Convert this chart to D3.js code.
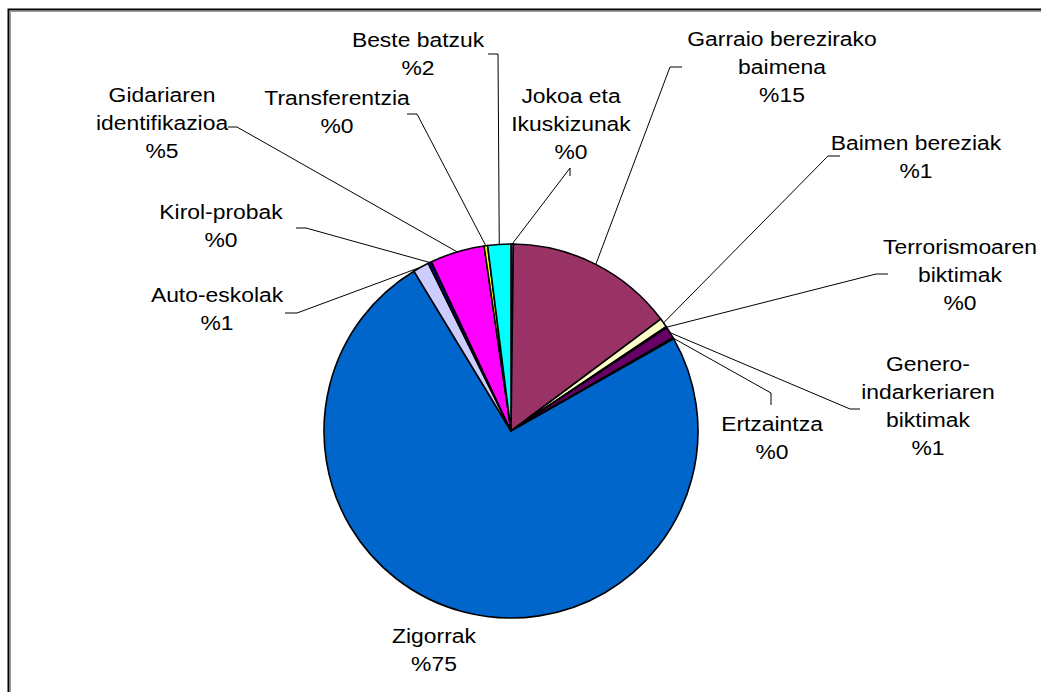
<!DOCTYPE html>
<html>
<head>
<meta charset="utf-8">
<script src="https://cdn.jsdelivr.net/npm/d3@7"></script>
<style>
	body { margin: 0; background: #fff; }
	svg text { font-family: Arial, "Liberation Sans", sans-serif; fill: #000; }
</style>
</head>
<body>
<svg width="1041" height="692"></svg>
<script>
// slices, clockwise from 12 o'clock
const categories = ['Jokoa eta Ikuskizunak', 'Garraio berezirako baimena', 'Baimen bereziak',
	'Terrorismoaren biktimak', 'Genero-indarkeriaren biktimak', 'Ertzaintza', 'Zigorrak',
	'Auto-eskolak', 'Kirol-probak', 'Gidariaren identifikazioa', 'Transferentzia', 'Beste batzuk'];
const values = [0.2, 14.6, 0.8, 0.1, 1.0, 0.1, 74.6, 1.4, 0.3, 4.7, 0.3, 2.0];
const labelLines = [['Jokoa eta', 'Ikuskizunak'], ['Garraio berezirako', 'baimena'], ['Baimen bereziak'],
	['Terrorismoaren', 'biktimak'], ['Genero-', 'indarkeriaren', 'biktimak'], ['Ertzaintza'], ['Zigorrak'],
	['Auto-eskolak'], ['Kirol-probak'], ['Gidariaren', 'identifikazioa'], ['Transferentzia'], ['Beste batzuk']];
const colors = ['#9999FF', '#993366', '#FFFFCC', '#CCFFFF', '#660066', '#FF8080', '#0066CC',
	'#CCCCFF', '#000080', '#FF00FF', '#FFFF00', '#00FFFF'];

// label layout: centre x, first baseline, leader stub start and elbow
const labelLayout = [
	{x: 571, y: 103, stub: [[570, 176], [570, 168]]},
	{x: 782, y: 46, stub: [[682, 67], [670, 67]]},
	{x: 916, y: 150, stub: [[840, 156], [828, 156]]},
	{x: 960, y: 254, stub: [[888, 274], [876, 274]]},
	{x: 928, y: 371, stub: [[860, 409], [850, 409]]},
	{x: 772, y: 431, stub: [[771, 405], [771, 393]]},
	{x: 434, y: 643, stub: null},
	{x: 217, y: 302, stub: [[285, 313], [297, 313]]},
	{x: 221, y: 219, stub: [[296, 228], [306, 228]]},
	{x: 162, y: 102, stub: [[228, 127], [237, 127]]},
	{x: 337, y: 105, stub: [[407, 114], [417, 114]]},
	{x: 418, y: 47, stub: [[488, 54], [498, 54]]}
];

const cx = 511, cy = 431, radius = 187, lineH = 28;
const svg = d3.select('svg');

// chart frame
svg.append('rect')
	.attr('x', 8.5).attr('y', 9.5)
	.attr('width', 1100).attr('height', 700)
	.attr('fill', 'none')
	.attr('stroke', '#000')
	.attr('stroke-width', 2);
svg.append('path')
	.attr('d', 'M10.5,1000V11.5H1100')
	.attr('fill', 'none')
	.attr('stroke', '#999')
	.attr('stroke-width', 1);

const total = d3.sum(values);
const pie = d3.pie().sort(null).value(d => d)(values);
const arc = d3.arc().innerRadius(0).outerRadius(radius);
const edge = d3.arc().innerRadius(radius).outerRadius(radius);

const chart = svg.append('g')
	.attr('transform', `translate(${cx},${cy})`);

chart.selectAll('path')
	.data(pie)
	.enter()
	.append('path')
	.attr('d', arc)
	.attr('fill', (d, i) => colors[i])
	.attr('stroke', '#000')
	.attr('stroke-width', 1.6)
	.attr('stroke-linejoin', 'round');

// leader lines
pie.forEach((d, i) => {
	let lay = labelLayout[i];
	if (!lay.stub) return;
	let p = edge.centroid(d);
	let pts = [lay.stub[0], lay.stub[1], [p[0] + cx, p[1] + cy]];
	svg.append('path')
		.attr('d', d3.line()(pts))
		.attr('fill', 'none')
		.attr('stroke', '#000')
		.attr('stroke-width', 1);
});

// labels (text in the original is a bit wider than plain Arial)
pie.forEach((d, i) => {
	let lay = labelLayout[i];
	let lines = labelLines[i].concat(['%' + Math.round(values[i] / total * 100)]);
	let t = svg.append('text')
		.attr('text-anchor', 'middle')
		.attr('font-size', 21)
		.attr('transform', `translate(${lay.x},0) scale(1.09,1)`);
	lines.forEach((s, k) => {
		t.append('tspan')
			.attr('x', 0)
			.attr('y', lay.y + k * lineH)
			.text(s);
	});
});
</script>
</body>
</html>
